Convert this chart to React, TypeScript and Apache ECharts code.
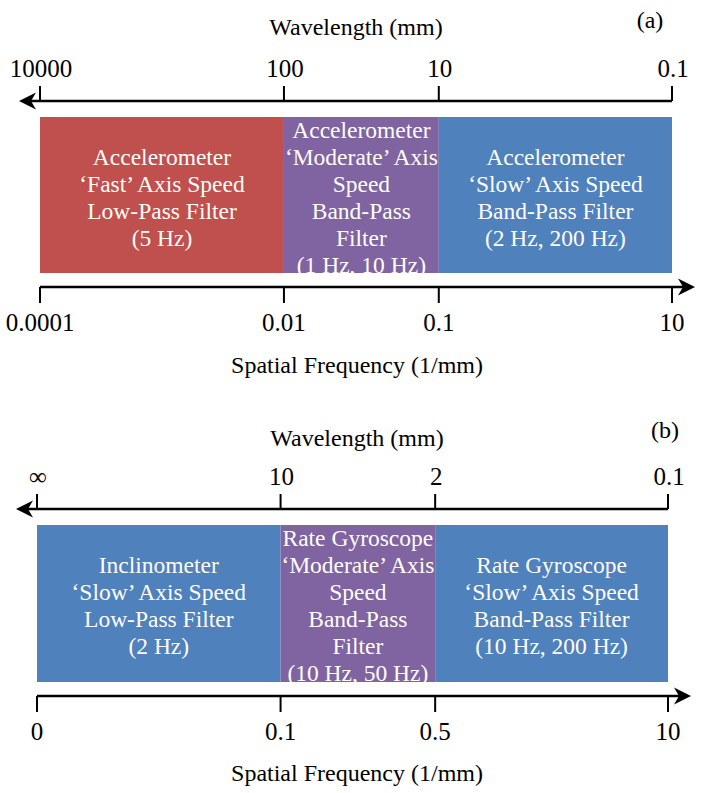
import React, { useEffect, useRef } from 'react';
import * as echarts from 'echarts';

// Schematic band edges (percent of the band width), shared by both panels
const bandEdges = [0, 38.6, 63.1, 100];

// Panel (a)
const wavelengthTicksA = ['10000', '100', '10', '0.1'];
const frequencyTicksA = ['0.0001', '0.01', '0.1', '10'];
const bandKindsA = ['fast', 'moderate', 'slow'];
const bandTextA = [
  'Accelerometer\n‘Fast’ Axis Speed\nLow-Pass Filter\n(5 Hz)',
  'Accelerometer\n‘Moderate’ Axis\nSpeed\nBand-Pass\nFilter\n(1 Hz, 10 Hz)',
  'Accelerometer\n‘Slow’ Axis Speed\nBand-Pass Filter\n(2 Hz, 200 Hz)',
];

// Panel (b)
const wavelengthTicksB = ['∞', '10', '2', '0.1'];
const frequencyTicksB = ['0', '0.1', '0.5', '10'];
const bandKindsB = ['slow', 'moderate', 'slow'];
const bandTextB = [
  'Inclinometer\n‘Slow’ Axis Speed\nLow-Pass Filter\n(2 Hz)',
  'Rate Gyroscope\n‘Moderate’ Axis\nSpeed\nBand-Pass\nFilter\n(10 Hz, 50 Hz)',
  'Rate Gyroscope\n‘Slow’ Axis Speed\nBand-Pass Filter\n(10 Hz, 200 Hz)',
];

const axisTitleTop = 'Wavelength (mm)';
const axisTitleBottom = 'Spatial Frequency (1/mm)';
const panelTags = ['(a)', '(b)'];

const KIND_COLORS: Record<string, string> = {
  fast: '#C0504D',
  moderate: '#8064A2',
  slow: '#4F81BD',
};

const FONT = '"Liberation Serif", "Times New Roman", serif';

function buildPanel(
  idx: number,
  kinds: string[],
  texts: string[],
  topTicks: string[],
  bottomTicks: string[]
) {
  const bands = {
    type: 'custom',
    xAxisIndex: idx,
    yAxisIndex: idx,
    silent: true,
    clip: false,
    data: kinds.map((k, j) => [bandEdges[j], bandEdges[j + 1], j]),
    renderItem: (params: any, api: any) => {
      const j = api.value(2);
      const p0 = api.coord([api.value(0), 1]);
      const p1 = api.coord([api.value(1), 0]);
      const w = p1[0] - p0[0];
      const h = p1[1] - p0[1];
      return {
        type: 'group',
        children: [
          {
            type: 'rect',
            shape: { x: p0[0], y: p0[1], width: w, height: h },
            style: { fill: KIND_COLORS[kinds[j]] },
          },
          {
            type: 'text',
            x: p0[0] + w / 2,
            y: p0[1] + h / 2 + 2,
            style: {
              text: texts[j],
              fill: '#fffdf8',
              fontSize: 23.5,
              fontFamily: FONT,
              lineHeight: 27,
              align: 'center',
              verticalAlign: 'middle',
            },
          },
        ],
      };
    },
  };

  const ticks = {
    type: 'custom',
    xAxisIndex: idx,
    yAxisIndex: idx,
    silent: true,
    clip: false,
    data: bandEdges.map((e, j) => [e, j]),
    renderItem: (params: any, api: any) => {
      const j = api.value(1);
      const top = api.coord([api.value(0), 1]);
      const bot = api.coord([api.value(0), 0]);
      const x = top[0];
      const lineTop = top[1] - 16;
      const lineBot = bot[1] + 14;
      return {
        type: 'group',
        children: [
          {
            type: 'line',
            shape: { x1: x, y1: lineTop - 15, x2: x, y2: lineTop },
            style: { stroke: '#000', lineWidth: 2 },
          },
          {
            type: 'line',
            shape: { x1: x, y1: lineBot, x2: x, y2: lineBot + 16 },
            style: { stroke: '#000', lineWidth: 2 },
          },
          {
            type: 'text',
            x: x + 1,
            y: top[1] - 49,
            style: {
              text: topTicks[j],
              fill: '#000',
              fontSize: 25,
              fontFamily: FONT,
              align: 'center',
              verticalAlign: 'middle',
            },
          },
          {
            type: 'text',
            x: x,
            y: bot[1] + 49,
            style: {
              text: bottomTicks[j],
              fill: '#000',
              fontSize: 25,
              fontFamily: FONT,
              align: 'center',
              verticalAlign: 'middle',
            },
          },
        ],
      };
    },
  };

  const axes = {
    type: 'custom',
    xAxisIndex: idx,
    yAxisIndex: idx,
    silent: true,
    clip: false,
    data: [[bandEdges[0], bandEdges[bandEdges.length - 1]]],
    renderItem: (params: any, api: any) => {
      const l = api.coord([api.value(0), 1]);
      const r = api.coord([api.value(1), 0]);
      const yTop = l[1] - 16;
      const yBot = r[1] + 14;
      const tipL = l[0] - 21;
      const tipR = r[0] + 23;
      return {
        type: 'group',
        children: [
          {
            type: 'line',
            shape: { x1: tipL + 8, y1: yTop, x2: r[0], y2: yTop },
            style: { stroke: '#000', lineWidth: 2.5 },
          },
          {
            type: 'polygon',
            shape: {
              points: [
                [tipL, yTop],
                [tipL + 17, yTop - 8.5],
                [tipL + 12, yTop],
                [tipL + 17, yTop + 8.5],
              ],
            },
            style: { fill: '#000' },
          },
          {
            type: 'line',
            shape: { x1: l[0], y1: yBot, x2: tipR - 8, y2: yBot },
            style: { stroke: '#000', lineWidth: 2.5 },
          },
          {
            type: 'polygon',
            shape: {
              points: [
                [tipR, yBot],
                [tipR - 17, yBot - 8.5],
                [tipR - 12, yBot],
                [tipR - 17, yBot + 8.5],
              ],
            },
            style: { fill: '#000' },
          },
        ],
      };
    },
  };

  return [bands, ticks, axes];
}

export default function App() {
  const ref = useRef<HTMLDivElement>(null);

  useEffect(() => {
    if (!ref.current) return;
    const chart = echarts.init(ref.current, undefined, { renderer: 'svg' });

    const titleStyle = (text: string) => ({
      text,
      fill: '#000',
      fontSize: 24,
      fontFamily: FONT,
      align: 'center',
      verticalAlign: 'middle',
    });

    const option: any = {
      animation: false,
      backgroundColor: '#ffffff',
      grid: [
        { left: 40, width: 632, top: 117, height: 156 },
        { left: 37, width: 631, top: 525, height: 157 },
      ],
      xAxis: [0, 1].map((i) => ({
        type: 'value',
        gridIndex: i,
        min: 0,
        max: 100,
        show: false,
      })),
      yAxis: [0, 1].map((i) => ({
        type: 'value',
        gridIndex: i,
        min: 0,
        max: 1,
        show: false,
      })),
      graphic: [
        { type: 'text', x: 356, y: 27, style: titleStyle(axisTitleTop) },
        { type: 'text', x: 650, y: 20, style: titleStyle(panelTags[0]) },
        { type: 'text', x: 357, y: 365, style: titleStyle(axisTitleBottom) },
        { type: 'text', x: 357, y: 438, style: titleStyle(axisTitleTop) },
        { type: 'text', x: 665, y: 430, style: titleStyle(panelTags[1]) },
        { type: 'text', x: 357, y: 773, style: titleStyle(axisTitleBottom) },
      ],
      series: [
        ...buildPanel(0, bandKindsA, bandTextA, wavelengthTicksA, frequencyTicksA),
        ...buildPanel(1, bandKindsB, bandTextB, wavelengthTicksB, frequencyTicksB),
      ],
    };

    chart.setOption(option);
    return () => chart.dispose();
  }, []);

  return (
    <div
      ref={ref}
      style={{
        position: 'fixed',
        left: 0,
        top: 0,
        width: 704,
        height: 793,
        background: '#fff',
      }}
    />
  );
}
